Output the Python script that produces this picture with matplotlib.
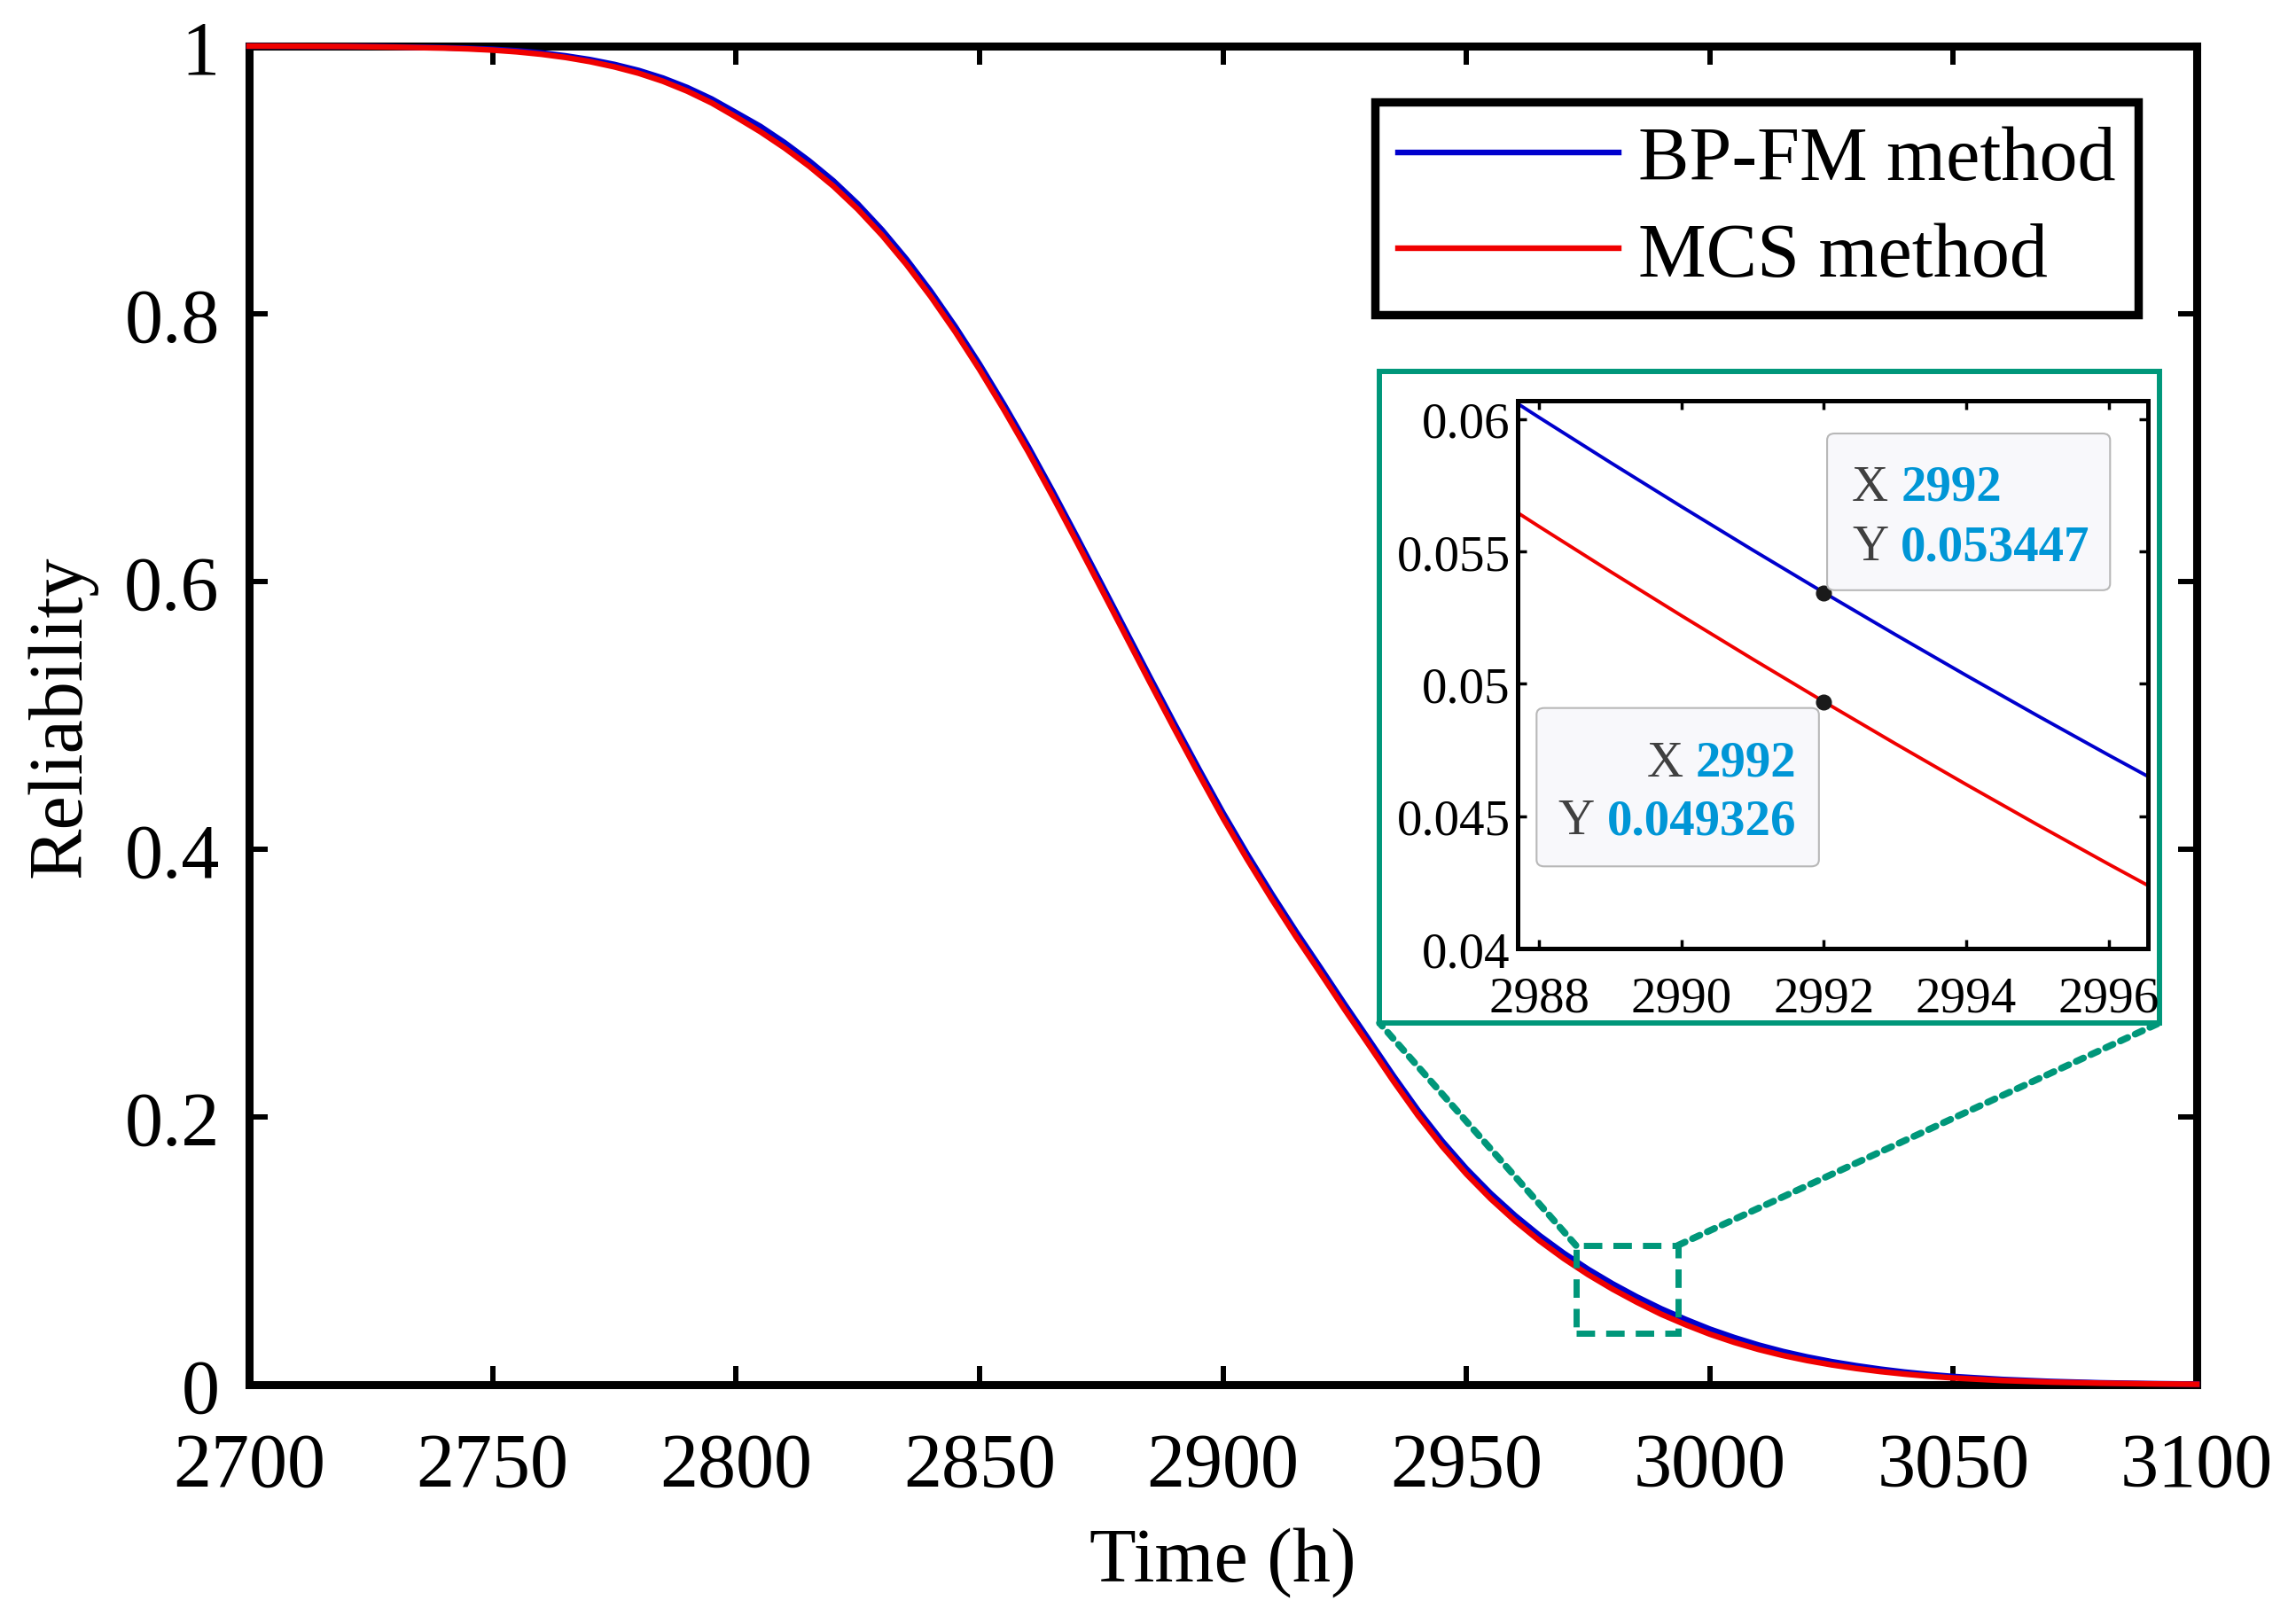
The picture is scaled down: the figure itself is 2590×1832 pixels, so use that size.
import matplotlib
matplotlib.use('Agg')
import matplotlib.pyplot as plt
from matplotlib.patches import Rectangle, FancyBboxPatch, ConnectionPatch
from matplotlib.ticker import FuncFormatter

plt.rcParams['font.family'] = ['Liberation Serif', 'DejaVu Serif']

# reliability curves (5 h steps where the curve bends)
time_h = [2700, 2710, 2720, 2730,
          2740, 2745, 2750, 2755, 2760, 2765, 2770, 2775, 2780, 2785,
          2790, 2795, 2800, 2805, 2810, 2815, 2820, 2825, 2830, 2835,
          2840, 2845, 2850, 2855, 2860, 2865, 2870, 2875, 2880, 2885,
          2890, 2895, 2900, 2905, 2910, 2915, 2920, 2925, 2930, 2935,
          2940, 2945, 2950, 2955, 2960, 2965, 2970, 2975, 2980, 2985,
          2990, 2995, 3000, 3005, 3010, 3015, 3020, 3025, 3030, 3035,
          3040, 3045, 3050,
          3060, 3070, 3080, 3090, 3100]
bpfm = [1.0000, 0.9999, 0.9998, 0.9994,
        0.9988, 0.9983, 0.9976, 0.9965, 0.9949, 0.9927, 0.9899, 0.9863, 0.9818, 0.9761,
        0.9690, 0.9605, 0.9503, 0.9400, 0.9278, 0.9143, 0.8993, 0.8821, 0.8626, 0.8408,
        0.8168, 0.7906, 0.7624, 0.7324, 0.7009, 0.6677, 0.6334, 0.5986, 0.5636, 0.5286,
        0.4941, 0.4603, 0.4273, 0.3963, 0.3668, 0.3386, 0.3116, 0.2842, 0.2576, 0.2308,
        0.2053, 0.1821, 0.1613, 0.1428, 0.1263, 0.1115, 0.0982, 0.0862, 0.0754, 0.0656,
        0.0567, 0.0488, 0.0415, 0.0352, 0.0296, 0.0248, 0.0207, 0.0172, 0.0142, 0.0116,
        0.0094, 0.0076, 0.0061,
        0.0039, 0.0024, 0.0014, 0.0008, 0.0004]
mcs = [1.0000, 0.9999, 0.9997, 0.9992,
       0.9985, 0.9979, 0.9970, 0.9957, 0.9939, 0.9915, 0.9884, 0.9845, 0.9797, 0.9737,
       0.9663, 0.9575, 0.9470, 0.9360, 0.9238, 0.9103, 0.8953, 0.8781, 0.8586, 0.8368,
       0.8128, 0.7866, 0.7584, 0.7284, 0.6969, 0.6637, 0.6294, 0.5946, 0.5596, 0.5246,
       0.4901, 0.4563, 0.4233, 0.3923, 0.3628, 0.3346, 0.3076, 0.2802, 0.2536, 0.2268,
       0.2013, 0.1781, 0.1573, 0.1388, 0.1223, 0.1075, 0.0942, 0.0822, 0.0714, 0.0616,
       0.0526, 0.0448, 0.0377, 0.0316, 0.0263, 0.0218, 0.0180, 0.0148, 0.0121, 0.0098,
       0.0079, 0.0063, 0.0050,
       0.0031, 0.0019, 0.0011, 0.0006, 0.0003]

# zoomed window around the data tips
zoom_t = [2987, 2988, 2989, 2990, 2991, 2992, 2993, 2994, 2995, 2996, 2997]
zoom_bpfm = [0.061797, 0.060067, 0.058367, 0.056697, 0.055057, 0.053447,
             0.051867, 0.050317, 0.048797, 0.047307, 0.045847]
zoom_mcs = [0.057676, 0.055946, 0.054246, 0.052576, 0.050936, 0.049326,
            0.047746, 0.046196, 0.044676, 0.043186, 0.041726]

tip_x = 2992
tip_bpfm = 0.053447
tip_mcs = 0.049326

x_ticks = [2700, 2750, 2800, 2850, 2900, 2950, 3000, 3050, 3100]
y_ticks = [0, 0.2, 0.4, 0.6, 0.8, 1]
zoom_x_ticks = [2988, 2990, 2992, 2994, 2996]
zoom_y_ticks = [0.04, 0.045, 0.05, 0.055, 0.06]

# region of the main plot that is magnified
box_t = (2972.5, 2993.4)
box_r = (0.0384, 0.104)

BLUE = '#0000CD'
RED = '#F00000'
TEAL = '#00977A'
TIPBLUE = '#0096D6'
fmt = FuncFormatter(lambda v, p: '%g' % v)

fig = plt.figure(figsize=(25.9, 18.33), dpi=100)
ax = fig.add_axes([0.1085, 0.1473, 0.8483, 0.8238])
ax.plot(time_h, bpfm, color=BLUE, lw=4.6, label='BP-FM method', clip_on=False,
        zorder=3, solid_joinstyle='round')
ax.plot(time_h, mcs, color=RED, lw=4.6, label='MCS method', clip_on=False,
        zorder=3, solid_joinstyle='round')
ax.set_xlim(2700, 3100)
ax.set_ylim(0, 1)
ax.set_xticks(x_ticks)
ax.set_yticks(y_ticks)
ax.xaxis.set_major_formatter(fmt)
ax.yaxis.set_major_formatter(fmt)
ax.tick_params(direction='in', length=15, width=4.3, top=True, right=True,
               labelsize=62)
ax.tick_params(axis='x', pad=38)
ax.tick_params(axis='y', pad=24)
for s in ax.spines.values():
    s.set_linewidth(6.5)
ax.set_xlabel('Time (h)', fontsize=62, labelpad=21)
ax.set_ylabel('Reliability', fontsize=62, labelpad=22)

leg = ax.legend(loc='upper right', bbox_to_anchor=(0.970, 0.958), fontsize=62,
                handlelength=2.9, handletextpad=0.25, borderpad=0.3,
                labelspacing=0.34, borderaxespad=0, fancybox=False,
                edgecolor='black', framealpha=1)
leg.get_frame().set_linewidth(6.8)

# dashed box on the main curve
ax.add_patch(Rectangle((box_t[0], box_r[0]), box_t[1] - box_t[0], box_r[1] - box_r[0],
                       fill=False, ec=TEAL, lw=5, ls=(0, (3, 1.8)), zorder=4))

# green frame around the inset
frame = Rectangle((0.6008, 0.3699), 0.3397, 0.401, transform=fig.transFigure,
                  fc='white', ec=TEAL, lw=4.3, zorder=1)
fig.add_artist(frame)
for xa, xb in [(box_t[0], 0.6008), (box_t[1], 0.9405)]:
    con = ConnectionPatch(xyA=(xa, box_r[1]), coordsA=ax.transData,
                          xyB=(xb, 0.3699), coordsB=fig.transFigure,
                          color=TEAL, lw=5.5, ls=(0, (1.2, 1.2)), zorder=1)
    fig.add_artist(con)

axin = fig.add_axes([0.6610, 0.4157, 0.2745, 0.3372])
axin.set_zorder(3)
axin.plot(zoom_t, zoom_bpfm, color=BLUE, lw=2.8)
axin.plot(zoom_t, zoom_mcs, color=RED, lw=2.8)
axin.plot([tip_x, tip_x], [tip_bpfm, tip_mcs], 'o', color='#1a1a1a', ms=12, zorder=5)
axin.set_xlim(2987.7, 2996.55)
axin.set_ylim(0.04, 0.0607)
axin.set_xticks(zoom_x_ticks)
axin.set_yticks(zoom_y_ticks)
axin.xaxis.set_major_formatter(fmt)
axin.yaxis.set_major_formatter(fmt)
axin.tick_params(direction='in', length=7, width=2.5, top=True, right=True,
                 labelsize=41)
axin.tick_params(axis='x', pad=22)
axin.tick_params(axis='y', pad=6)
for s in axin.spines.values():
    s.set_linewidth(3.6)

# data tips: box (x0, y0, w, h), value x, alignment, baselines, y value
tips = [
    ((0.491, 0.654, 0.449, 0.286), 0.608, 'left', (0.819, 0.710), tip_bpfm),
    ((0.030, 0.150, 0.448, 0.289), 0.442, 'right', (0.316, 0.210), tip_mcs),
]
for (bx, by, bw, bh), vx, ha, (b1, b2), yv in tips:
    axin.add_patch(FancyBboxPatch((bx, by), bw, bh, boxstyle='round,pad=0,rounding_size=0.012',
                                  transform=axin.transAxes, fc='#F8F8FB', ec='#B8B8B8',
                                  lw=1.5, zorder=6))
    for lab, val, base in [('X', '%d' % tip_x, b1), ('Y', '%g' % yv, b2)]:
        t = axin.text(vx, base, val, transform=axin.transAxes, ha=ha, va='baseline',
                      fontsize=41, fontweight='bold', color=TIPBLUE, zorder=7)
        axin.annotate(lab, xy=(0, 0), xycoords=t, xytext=(-10, 0),
                      textcoords='offset points', ha='right', va='bottom',
                      fontsize=41, color='#404040', zorder=7)

fig.savefig('out.png', dpi=100)
